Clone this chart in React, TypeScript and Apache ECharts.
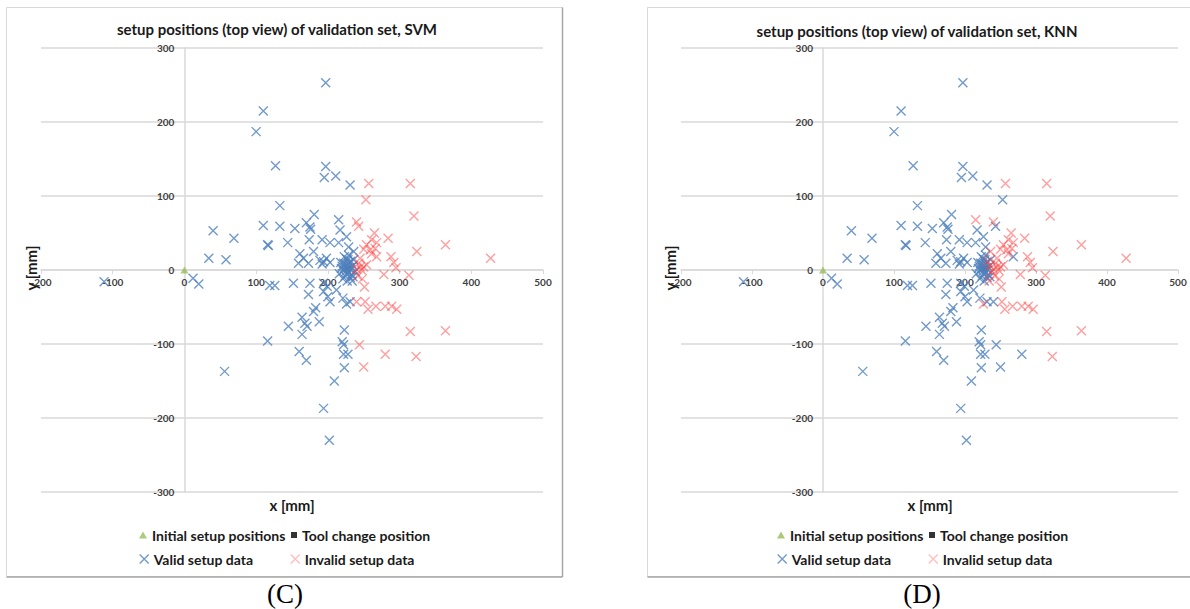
import React, { useEffect, useRef } from "react";
import * as echarts from "echarts";

// Validation setup positions (x [mm], y [mm]) with class per model: V = valid, I = invalid
const validationPoints: [number, number, string, string][] = [
  [197, 253, "V", "V"], [110, 215, "V", "V"], [100, 187, "V", "V"], [127, 141, "V", "V"],
  [197, 140, "V", "V"], [195, 125, "V", "V"], [211, 127, "V", "V"], [231, 115, "V", "V"],
  [257, 117, "I", "I"], [315, 117, "I", "I"], [253, 95, "I", "V"], [320, 73, "I", "I"],
  [133, 87, "V", "V"], [181, 75, "V", "V"], [215, 68, "V", "I"], [170, 64, "V", "V"],
  [175, 58, "V", "V"], [176, 55, "V", "V"], [110, 60, "V", "V"], [133, 59, "V", "V"],
  [154, 56, "V", "V"], [40, 53, "V", "V"], [69, 43, "V", "V"], [116, 34, "V", "V"],
  [117, 33, "V", "V"], [144, 37, "V", "V"], [34, 16, "V", "V"], [58, 14, "V", "V"],
  [217, 54, "V", "V"], [174, 41, "V", "V"], [192, 41, "V", "V"], [203, 37, "V", "V"],
  [215, 37, "V", "V"], [226, 45, "V", "V"], [240, 65, "I", "I"], [243, 59, "I", "V"],
  [265, 50, "I", "I"], [284, 43, "I", "I"], [261, 41, "I", "I"], [268, 37, "I", "I"],
  [254, 34, "I", "I"], [250, 28, "I", "I"], [259, 27, "I", "I"], [266, 29, "I", "I"],
  [261, 22, "I", "I"], [324, 25, "I", "I"], [364, 34, "I", "I"], [427, 16, "I", "I"],
  [288, 18, "I", "I"], [292, 10, "I", "I"], [245, 16, "I", "I"], [250, 4, "I", "I"],
  [247, 0, "I", "I"], [243, 9, "I", "I"], [254, 7, "I", "I"], [240, 1, "I", "I"],
  [278, -6, "I", "I"], [313, -7, "I", "I"], [295, 3, "I", "I"], [229, 31, "V", "V"],
  [236, 25, "V", "I"], [161, 22, "V", "V"], [166, 16, "V", "V"], [159, 9, "V", "V"],
  [173, 9, "V", "V"], [180, 25, "V", "V"], [189, 13, "V", "V"], [194, 11, "V", "V"],
  [198, 16, "V", "V"], [203, 10, "V", "V"], [192, 8, "V", "V"], [268, 18, "I", "V"],
  [220, 5, "V", "V"], [222, 0, "V", "V"], [225, 8, "V", "V"], [228, -3, "V", "V"],
  [230, 3, "V", "V"], [232, 12, "V", "I"], [226, 15, "V", "V"], [224, -8, "V", "V"],
  [233, -6, "V", "V"], [218, 10, "V", "V"], [221, -12, "V", "V"], [235, 6, "V", "I"],
  [229, 20, "V", "V"], [238, -2, "V", "I"], [227, -15, "V", "V"], [231, -10, "V", "V"],
  [219, 2, "V", "V"], [236, 14, "V", "V"], [223, 18, "V", "V"], [234, -15, "V", "I"],
  [216, -5, "V", "V"], [229, 8, "V", "V"], [226, 2, "V", "V"], [232, 0, "V", "V"],
  [224, 4, "V", "V"], [227, -6, "V", "V"], [230, 10, "V", "V"], [225, -2, "V", "V"],
  [233, 4, "V", "V"], [228, 14, "V", "V"], [222, 9, "V", "V"], [235, -9, "V", "V"],
  [-112, -16, "V", "V"], [12, -11, "V", "V"], [20, -19, "V", "V"], [119, -21, "V", "V"],
  [126, -21, "V", "V"], [152, -18, "V", "V"], [175, -18, "V", "V"], [194, -18, "V", "V"],
  [173, -33, "V", "V"], [194, -29, "V", "V"], [200, -36, "V", "V"], [203, -43, "V", "V"],
  [212, -27, "V", "V"], [221, -38, "V", "V"], [226, -46, "V", "I"], [231, -43, "V", "V"],
  [199, -22, "V", "V"], [183, -51, "V", "V"], [180, -56, "V", "V"], [188, -70, "V", "V"],
  [164, -64, "V", "V"], [168, -72, "V", "V"], [171, -76, "V", "V"], [145, -76, "V", "V"],
  [164, -87, "V", "V"], [223, -81, "V", "V"], [116, -96, "V", "V"], [220, -97, "V", "V"],
  [222, -101, "V", "V"], [160, -110, "V", "V"], [170, -122, "V", "V"], [222, -114, "V", "V"],
  [228, -114, "V", "V"], [223, -132, "V", "V"], [209, -150, "V", "V"], [56, -137, "V", "V"],
  [194, -187, "V", "V"], [202, -230, "V", "V"], [244, -101, "I", "V"], [250, -131, "I", "V"],
  [280, -114, "I", "V"], [323, -117, "I", "I"], [315, -83, "I", "I"], [364, -82, "I", "I"],
  [240, -43, "I", "V"], [252, -43, "I", "I"], [256, -53, "I", "I"], [267, -49, "I", "I"],
  [280, -49, "I", "I"], [289, -49, "I", "I"], [296, -53, "I", "I"], [251, -23, "I", "I"],
  [242, -8, "I", "I"], [248, -12, "I", "I"], [245, 4, "I", "I"],
];

const initialSetup: [number, number][] = [[0, 0]];
const toolChange: [number, number][] = [[228, 2]];

const xMin = -200, xMax = 500, xStep = 100;
const yMin = -300, yMax = 300, yStep = 100;

const chartTitles = [
  "setup positions (top view) of validation set, SVM",
  "setup positions (top view) of validation set, KNN",
];
const captions = ["(C)", "(D)"];
const legendNames = ["Initial setup positions", "Tool change position", "Valid setup data", "Invalid setup data"];

const VALID_COLOR = "#4f81bd";
const INVALID_COLOR = "#ff4040";
const CROSS = "path://M0,0L10,10M10,0L0,10";
const FONT = "Lato, 'Open Sans', sans-serif";

export default function App() {
  const ref = useRef<HTMLDivElement>(null);
  useEffect(() => {
    if (!ref.current) return;
    const chart = echarts.init(ref.current, undefined, { renderer: "svg" });

    const GRID_TOP = 48, GRID_H = 444;
    const panels = [
      { gridLeft: 41, gridWidth: 502, classIdx: 2, off: 0, box: { x: 6.5, w: 556 }, titleX: 277, titleY: 29, capX: 285, xNameX: 292, yNameX: 31 },
      { gridLeft: 681, gridWidth: 497, classIdx: 3, off: 638, box: { x: 647.5, w: 560 }, titleX: 917, titleY: 31, capX: 922, xNameX: 930, yNameX: 670 },
    ];

    const grid = panels.map((p) => ({ left: p.gridLeft, width: p.gridWidth, top: GRID_TOP, height: GRID_H }));
    // place axes through the origin (Excel style crossing at 0)
    const xAxis = panels.map((_, i) => ({
      type: "value", gridIndex: i, min: xMin, max: xMax, interval: xStep, position: "bottom",
      offset: -(GRID_H * (0 - yMin)) / (yMax - yMin),
      axisLine: { onZero: false, lineStyle: { color: "#d9d9d9", width: 1.5 } },
      axisTick: { show: true, length: 4, lineStyle: { color: "#d9d9d9" } },
      splitLine: { show: false },
      axisLabel: { fontFamily: FONT, fontSize: 10, fontWeight: "bold", color: "#404040", margin: 7 },
    }));
    const yAxis = panels.map((p, i) => ({
      type: "value", gridIndex: i, min: yMin, max: yMax, interval: yStep, position: "left",
      offset: -(p.gridWidth * (0 - xMin)) / (xMax - xMin),
      axisLine: { onZero: false, lineStyle: { color: "#d9d9d9", width: 1.5 } },
      axisTick: { show: false },
      splitLine: { show: true, lineStyle: { color: "#d9d9d9", width: 1.5 } },
      axisLabel: { fontFamily: FONT, fontSize: 10, fontWeight: "bold", color: "#404040", margin: 10 },
    }));

    const series: any[] = [];
    panels.forEach((p, i) => {
      series.push({
        name: legendNames[0], type: "scatter", xAxisIndex: i, yAxisIndex: i,
        data: initialSetup, symbol: "triangle", symbolSize: [8, 7], itemStyle: { color: "#9bbb59" }, z: 3,
      });
      series.push({
        name: legendNames[1], type: "scatter", xAxisIndex: i, yAxisIndex: i,
        data: toolChange, symbol: "rect", symbolSize: 6, itemStyle: { color: "#000" }, z: 1,
      });
      series.push({
        name: legendNames[2], type: "scatter", xAxisIndex: i, yAxisIndex: i,
        data: validationPoints.filter((d) => d[p.classIdx] === "V").map((d) => [d[0], d[1]]),
        symbol: CROSS, symbolSize: 9,
        itemStyle: { color: "rgba(0,0,0,0)", borderColor: VALID_COLOR, borderWidth: 1.4, opacity: 0.8 }, z: 2,
      });
      series.push({
        name: legendNames[3], type: "scatter", xAxisIndex: i, yAxisIndex: i,
        data: validationPoints.filter((d) => d[p.classIdx] === "I").map((d) => [d[0], d[1]]),
        symbol: CROSS, symbolSize: 9,
        itemStyle: { color: "rgba(0,0,0,0)", borderColor: INVALID_COLOR, borderWidth: 1.4, opacity: 0.5 }, z: 2,
      });
    });

    const legTxt = { fontFamily: FONT, fontSize: 14, fontWeight: "bold", color: "#1a1a1a" };
    const legend: any[] = [];
    panels.forEach((p) => {
      legend.push({ left: 134 + p.off, top: 523, itemWidth: 8, itemHeight: 7, selectedMode: false, textStyle: legTxt,
        data: [{ name: legendNames[0], icon: "triangle", itemStyle: { color: "#9bbb59" } }] });
      legend.push({ left: 286 + p.off, top: 523, itemWidth: 6, itemHeight: 6, selectedMode: false, textStyle: legTxt,
        data: [{ name: legendNames[1], icon: "rect", itemStyle: { color: "#000" } }] });
      legend.push({ left: 134 + p.off, top: 547, itemWidth: 9, itemHeight: 9, selectedMode: false, textStyle: legTxt,
        data: [{ name: legendNames[2], icon: CROSS, itemStyle: { color: "rgba(0,0,0,0)", borderColor: VALID_COLOR, borderWidth: 1.4 } }] });
      legend.push({ left: 285 + p.off, top: 547, itemWidth: 9, itemHeight: 9, selectedMode: false, textStyle: legTxt,
        data: [{ name: legendNames[3], icon: CROSS, itemStyle: { color: "rgba(0,0,0,0)", borderColor: "#ff8080", borderWidth: 1.4 } }] });
    });

    const graphic: any[] = [];
    panels.forEach((p, i) => {
      graphic.push({ type: "rect", z: -10, shape: { x: p.box.x, y: 7.5, width: p.box.w, height: 569 },
        style: { fill: "#fff", stroke: "#d9d9d9", lineWidth: 1 } });
      graphic.push({ type: "line", z: -9, shape: { x1: p.box.x + p.box.w, y1: 7.5, x2: p.box.x + p.box.w, y2: 577 },
        style: { stroke: "#a6a6a6", lineWidth: 1.5 } });
      graphic.push({ type: "line", z: -9, shape: { x1: p.box.x, y1: 577, x2: p.box.x + p.box.w, y2: 577 },
        style: { stroke: "#a6a6a6", lineWidth: 1.5 } });
      graphic.push({ type: "text", x: p.titleX, y: p.titleY,
        style: { text: chartTitles[i], fontFamily: FONT, fontSize: 15, fontWeight: "bold", fill: "#1a1a1a", align: "center", verticalAlign: "middle" } });
      graphic.push({ type: "text", x: p.xNameX, y: 505,
        style: { text: "x [mm]", fontFamily: FONT, fontSize: 15, fontWeight: "bold", fill: "#1a1a1a", align: "center", verticalAlign: "middle" } });
      graphic.push({ type: "text", x: p.yNameX, y: 268, rotation: Math.PI / 2,
        style: { text: "y [mm]", fontFamily: FONT, fontSize: 15, fontWeight: "bold", fill: "#1a1a1a", align: "center", verticalAlign: "middle" } });
      graphic.push({ type: "text", x: p.capX, y: 594,
        style: { text: captions[i], fontFamily: "'Liberation Serif', 'DejaVu Serif', serif", fontSize: 27, fill: "#000", align: "center", verticalAlign: "middle" } });
    });

    chart.setOption({
      animation: false,
      backgroundColor: "#fff",
      grid, xAxis, yAxis, series, legend, graphic,
    });
    return () => chart.dispose();
  }, []);
  return <div ref={ref} style={{ position: "absolute", left: 0, top: 0, width: 1190, height: 609 }} />;
}
